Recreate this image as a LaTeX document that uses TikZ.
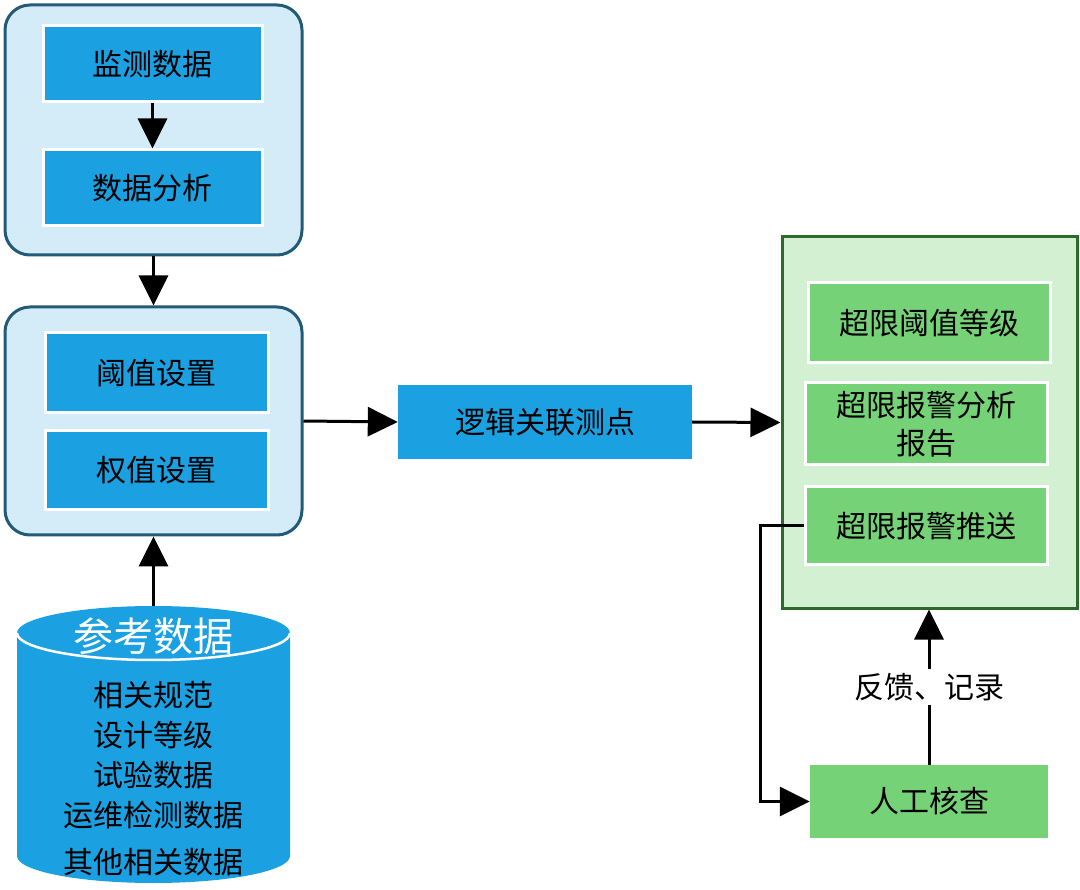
\documentclass[tikz,border=0pt]{standalone}
\usepackage{fontspec}
\setmainfont{Noto Sans CJK SC}
\usetikzlibrary{arrows.meta}
\definecolor{bfill}{HTML}{1BA1E2}
\definecolor{lblue}{HTML}{D4EBF8}
\definecolor{bborder}{HTML}{235A78}
\definecolor{gfill}{HTML}{76D277}
\definecolor{lgreen}{HTML}{D3F0D3}
\definecolor{gborder}{HTML}{2C6A2C}
\tikzset{
  txt/.style={font=\fontsize{30}{38}\selectfont, text=black, align=center, inner sep=0pt},
  bluecont/.style={draw=bborder, fill=lblue, line width=3pt, rounded corners=25pt, minimum width=297pt, minimum height=#1},
  greencont/.style={draw=gborder, fill=lgreen, line width=3pt, minimum width=295pt, minimum height=371pt},
  bluebox/.style={txt, draw=white, fill=bfill, line width=3pt, minimum width=#1},
  greenbox/.style={txt, draw=white, fill=gfill, line width=3pt, minimum width=#1},
  conn/.style={line width=3pt, -{Triangle[length=30pt,width=29pt]}},
}
\begin{document}
\begin{tikzpicture}[x=1pt,y=-1pt]
\useasboundingbox (0,0) rectangle (1080,890);
% left containers
\node[bluecont=250pt] (c1) at (153.5,130) {};
\node[bluebox=219pt, minimum height=76pt] (n1) at (152.5,64) {监测数据};
\node[bluebox=219pt, minimum height=76pt] (n2) at (152.5,188) {数据分析};
\node[bluecont=228pt] (c2) at (153.5,421) {};
\node[bluebox=223pt, minimum height=80pt] (n3) at (156.5,373) {阈值设置};
\node[bluebox=223pt, minimum height=79pt] (n4) at (156.5,470.5) {权值设置};
% cylinder
\fill[bfill] (17,633) -- (17,856) arc[start angle=180,end angle=360,x radius=136.5pt,y radius=27pt]
  -- (290,633) arc[start angle=0,end angle=180,x radius=136.5pt,y radius=27pt] -- cycle;
\draw[white, line width=2.5pt] (17,633) arc[start angle=180,end angle=360,x radius=136.5pt,y radius=27pt];
\coordinate (dbtop) at (153.5,606);
\node[txt, text=white, font=\fontsize{40}{42}\selectfont] (dbt) at (153.5,636) {参考数据};
\node[txt] (d1) at (153.5,695) {相关规范};
\node[txt] (d2) at (153.5,735) {设计等级};
\node[txt] (d3) at (153.5,775) {试验数据};
\node[txt] (d4) at (153.5,815) {运维检测数据};
\node[txt] (d5) at (153.5,862) {其他相关数据};
% middle
\node[txt, fill=bfill, minimum width=294pt, minimum height=74pt] (mid) at (545,422) {逻辑关联测点};
% right container
\node[greencont] (c3) at (929.5,422.5) {};
\node[greenbox=242pt, minimum height=80pt] (g1) at (929,323) {超限阈值等级};
\node[greenbox=242pt, minimum height=82pt] (g2) at (926,424) {超限报警分析\\报告};
\node[greenbox=242pt, minimum height=78pt] (g3) at (926,526) {超限报警推送};
\node[txt, fill=gfill, minimum width=238pt, minimum height=73pt] (g4) at (929,801.5) {人工核查};
% connectors
\draw[conn] (n1.south) -- (n2.north);
\draw[conn] (c1.south) -- (c2.north);
\draw[conn] (dbtop) -- (c2.south);
\draw[conn] (c2.east) -- (mid.west);
\draw[conn] (mid.east) -- (c3.west);
\draw[conn] (g3.west) -- ++(-43,0) |- (g4.west);
\draw[conn] (g4.north) -- node[txt, fill=white, inner sep=4pt] (fb) {反馈、记录} (g4.north |- c3.south);
\end{tikzpicture}
\end{document}
